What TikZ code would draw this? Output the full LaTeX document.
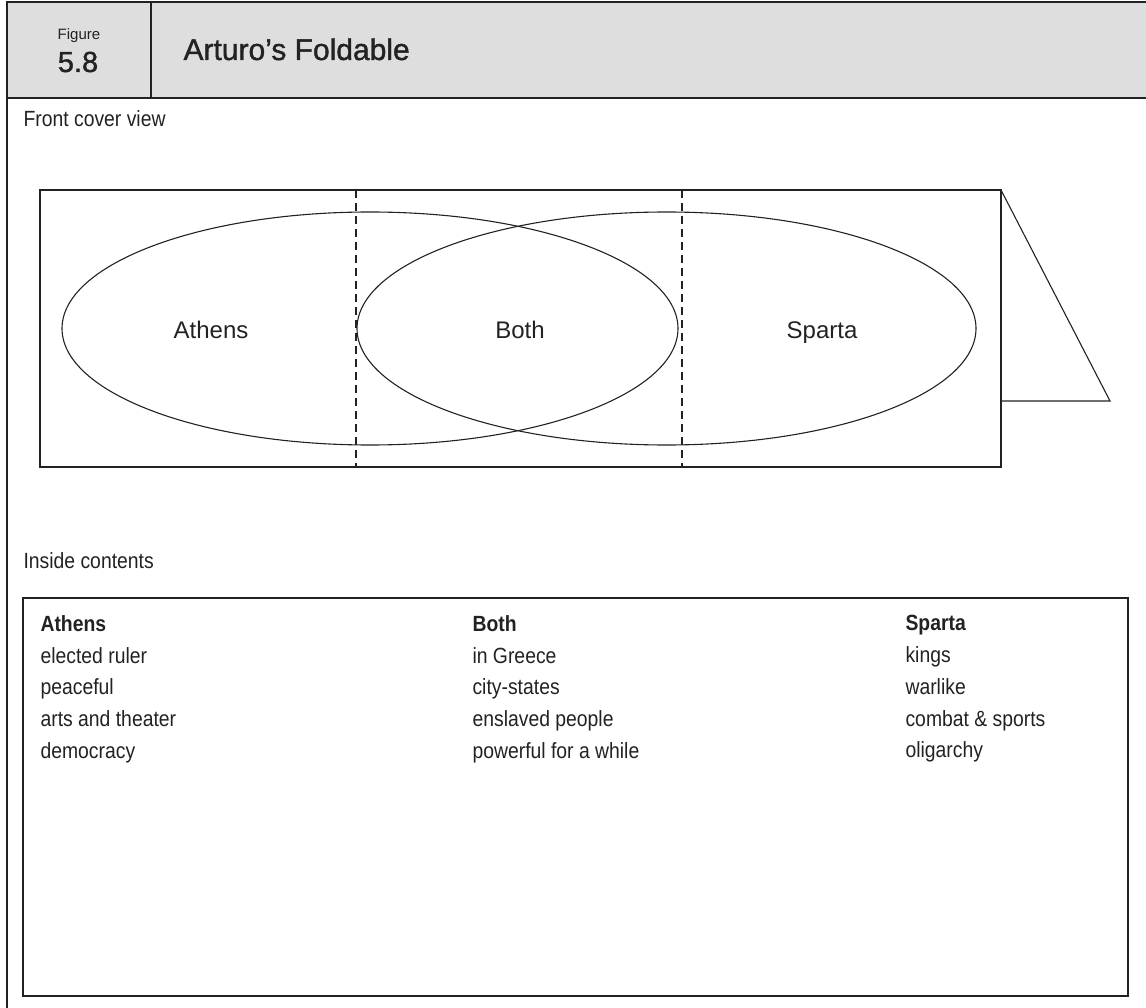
\documentclass[tikz,border=0pt]{standalone}
\usepackage{fontspec}
\setmainfont{Liberation Sans}
\newfontfamily\condfont[FakeStretch=0.88]{Liberation Sans}
\newfontfamily\medfont[FakeBold=1.2]{Liberation Sans}
\usepackage{xcolor}
\usepackage{tikz}
\definecolor{headgray}{HTML}{DEDEDE}
\definecolor{inkgray}{HTML}{222222}
\tikzset{
  txt/.style={inner sep=0pt, text=inkgray},
  cond/.style={txt, font=\condfont\fontsize{22}{31.7}\selectfont, align=left},
  venn/.style={txt, font=\fontsize{24}{24}\selectfont},
  fold/.style={dash pattern=on 8pt off 5pt}
}

\begin{document}
\begin{tikzpicture}[x=1pt,y=-1pt,line width=1.1pt,draw=inkgray]
\useasboundingbox (0,0) rectangle (1146,1008);
% header
\fill[headgray] (7,2) rectangle (1146,98);
\draw (1146,2) -- (7,2) -- (7,1008);
\draw (7,98) -- (1146,98);
\draw (151,2) -- (151,98);
\node (figword) at (79,40) [txt,anchor=base] {\fontsize{15}{15}\selectfont Figure};
\node (fignum) at (78,72) [txt,anchor=base] {\medfont\fontsize{29}{29}\selectfont 5.8};
\node (title) at (183,60) [txt,anchor=base west] {\medfont\fontsize{30}{30}\selectfont Arturo’s Foldable};
% front cover
\node (frontlbl) at (23,127) [cond,anchor=base west] {Front cover view};
\draw (40,190) rectangle (1001,467);
\draw (1001,190) -- (1110,401) -- (1001,401);
\draw[fold] (356,190) -- (356,467);
\draw[fold] (682,190) -- (682,467);
\draw (370,328.5) ellipse [x radius=308, y radius=116.5];
\draw (666.5,328.5) ellipse [x radius=309.5, y radius=116.5];
\node (athens) at (211,338) [venn,anchor=base] {Athens};
\node (both) at (520,338) [venn,anchor=base] {Both};
\node (sparta) at (822,338) [venn,anchor=base] {Sparta};
% inside
\node (insidelbl) at (23,568) [cond,anchor=base west] {Inside contents};
\draw (23,598) rectangle (1128,996);
\node (athenslist) at (40,615) [cond,anchor=north west] {\textbf{Athens}\\elected ruler\\peaceful\\arts and theater\\democracy};
\node (bothlist) at (472,615) [cond,anchor=north west] {\textbf{Both}\\in Greece\\city-states\\enslaved people\\powerful for a while};
\node (spartalist) at (905,615) [cond,anchor=north west] {\textbf{Sparta}\\kings\\warlike\\combat \& sports\\oligarchy};
\end{tikzpicture}
\end{document}
